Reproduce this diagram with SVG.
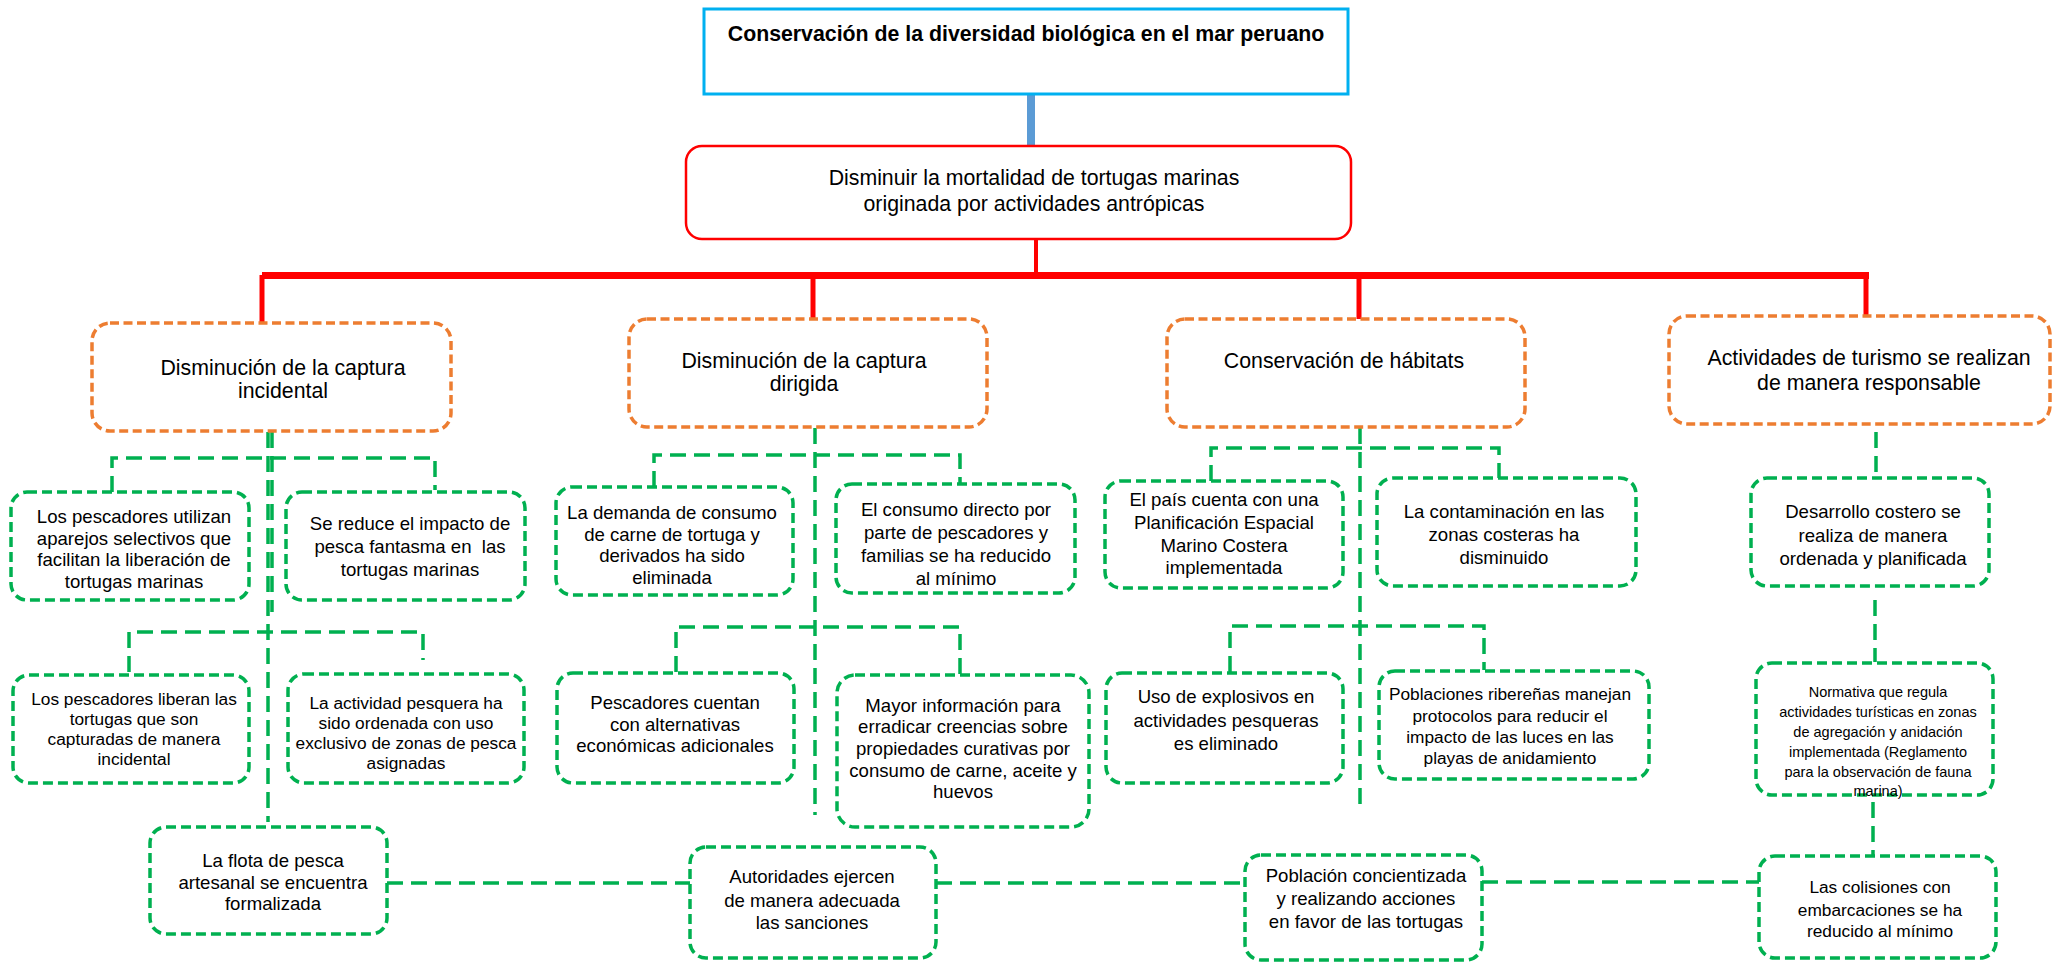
<svg xmlns="http://www.w3.org/2000/svg" width="2053" height="962" viewBox="0 0 2053 962">
<style>
text{font-family:"Liberation Sans",Arial,sans-serif;fill:#000;text-anchor:middle}
.t1{font-size:21.3px;font-weight:bold}
.t2{font-size:21.3px}
.t3{font-size:18.6px}
.t4{font-size:17.3px}
.t5{font-size:14.5px}
.top{fill:#fff;stroke:#00B0F0;stroke-width:3}
.goal{fill:#fff;stroke:#FF0000;stroke-width:2.5}
.obj{fill:#fff;stroke:#ED7D31;stroke-width:3.5;stroke-dasharray:9 4.5}
.res{fill:#fff;stroke:#00B050;stroke-width:3.5;stroke-dasharray:10 5}
.c{fill:none;stroke:#00B050;stroke-width:3.5;stroke-dasharray:16 8}
.r{fill:none;stroke:#FF0000}
</style>
<rect width="2053" height="962" fill="#fff"/>
<g id="connectors">
<line x1="1031" y1="95" x2="1031" y2="146" stroke="#5B9BD5" stroke-width="8"/>
<line class="r" x1="1036" y1="239" x2="1036" y2="275" stroke-width="4"/>
<line class="r" x1="262" y1="275.5" x2="1869" y2="275.5" stroke-width="7"/>
<line class="r" x1="262" y1="275" x2="262" y2="323" stroke-width="5"/>
<line class="r" x1="813" y1="275" x2="813" y2="319" stroke-width="5"/>
<line class="r" x1="1359" y1="275" x2="1359" y2="319" stroke-width="5"/>
<line class="r" x1="1866" y1="275" x2="1866" y2="316" stroke-width="5"/>
<path class="c" d="M268 432V822M272 432V612"/>
<path class="c" d="M112 492V458H435V490"/>
<path class="c" d="M129 672V632H423V660"/>
<path class="c" d="M815 428V815"/>
<path class="c" d="M654 487V455H960V484"/>
<path class="c" d="M676 672V627H960V674"/>
<path class="c" d="M1360 428V808"/>
<path class="c" d="M1211 481V448H1499V478"/>
<path class="c" d="M1230 672V626H1484V670"/>
<path class="c" d="M1876 432V477"/>
<path class="c" d="M1875 600V662"/>
<path class="c" d="M1873 802V855"/>
<path class="c" d="M387 883H691M936 883H1245M1482 882H1759"/>
</g>
<g id="n0"><rect class="top" x="704" y="9" width="644" height="85"/><text class="t1" x="1026" y="40.5">Conservación de la diversidad biológica en el mar peruano</text></g>
<g id="n1"><rect class="goal" x="686" y="146" width="665" height="93" rx="16"/><text class="t2" x="1034" y="184.5">Disminuir la mortalidad de tortugas marinas</text><text class="t2" x="1034" y="211">originada por actividades antrópicas</text></g>
<g id="oA"><rect class="obj" x="92" y="323" width="359" height="108" rx="18"/><text class="t2" x="283" y="374.5">Disminución de la captura</text><text class="t2" x="283" y="398">incidental</text></g>
<g id="oB"><rect class="obj" x="629" y="319" width="358" height="108" rx="18"/><text class="t2" x="804" y="367.5">Disminución de la captura</text><text class="t2" x="804" y="391">dirigida</text></g>
<g id="oC"><rect class="obj" x="1167" y="319" width="358" height="108" rx="18"/><text class="t2" x="1344" y="367.5">Conservación de hábitats</text></g>
<g id="oD"><rect class="obj" x="1669" y="316" width="381" height="108" rx="18"/><text class="t2" x="1869" y="364.5">Actividades de turismo se realizan</text><text class="t2" x="1869" y="390">de manera responsable</text></g>
<g id="a1"><rect class="res" x="11" y="492" width="238" height="108" rx="16"/><text class="t3" x="134" y="523">Los pescadores utilizan</text><text class="t3" x="134" y="544.5">aparejos selectivos que</text><text class="t3" x="134" y="566">facilitan la liberación de</text><text class="t3" x="134" y="587.5">tortugas marinas</text></g>
<g id="a2"><rect class="res" x="286" y="492" width="239" height="108" rx="16"/><text class="t3" x="410" y="530">Se reduce el impacto de</text><text class="t3" x="410" y="553" xml:space="preserve">pesca fantasma en  las</text><text class="t3" x="410" y="576">tortugas marinas</text></g>
<g id="a3"><rect class="res" x="13" y="675" width="236" height="108" rx="16"/><text class="t4" x="134" y="705">Los pescadores liberan las</text><text class="t4" x="134" y="725">tortugas que son</text><text class="t4" x="134" y="745">capturadas de manera</text><text class="t4" x="134" y="765">incidental</text></g>
<g id="a4"><rect class="res" x="288" y="674" width="236" height="109" rx="16"/><text class="t4" x="406" y="709">La actividad pesquera ha</text><text class="t4" x="406" y="729">sido ordenada con uso</text><text class="t4" x="406" y="749">exclusivo de zonas de pesca</text><text class="t4" x="406" y="769">asignadas</text></g>
<g id="a5"><rect class="res" x="150" y="827" width="237" height="107" rx="16"/><text class="t3" x="273" y="867">La flota de pesca</text><text class="t3" x="273" y="889">artesanal se encuentra</text><text class="t3" x="273" y="910">formalizada</text></g>
<g id="b1"><rect class="res" x="556" y="487" width="237" height="108" rx="16"/><text class="t3" x="672" y="519">La demanda de consumo</text><text class="t3" x="672" y="541">de carne de tortuga y</text><text class="t3" x="672" y="562">derivados ha sido</text><text class="t3" x="672" y="584">eliminada</text></g>
<g id="b2"><rect class="res" x="836" y="484" width="239" height="109" rx="16"/><text class="t3" x="956" y="516">El consumo directo por</text><text class="t3" x="956" y="539">parte de pescadores y</text><text class="t3" x="956" y="562">familias se ha reducido</text><text class="t3" x="956" y="585">al mínimo</text></g>
<g id="b3"><rect class="res" x="557" y="673" width="237" height="110" rx="16"/><text class="t3" x="675" y="709">Pescadores cuentan</text><text class="t3" x="675" y="731">con alternativas</text><text class="t3" x="675" y="752">económicas adicionales</text></g>
<g id="b4"><rect class="res" x="837" y="675" width="252" height="152" rx="18"/><text class="t3" x="963" y="712">Mayor información para</text><text class="t3" x="963" y="733">erradicar creencias sobre</text><text class="t3" x="963" y="755">propiedades curativas por</text><text class="t3" x="963" y="777">consumo de carne, aceite y</text><text class="t3" x="963" y="798">huevos</text></g>
<g id="b5"><rect class="res" x="690" y="847" width="246" height="111" rx="16"/><text class="t3" x="812" y="883">Autoridades ejercen</text><text class="t3" x="812" y="907">de manera adecuada</text><text class="t3" x="812" y="929">las sanciones</text></g>
<g id="c1"><rect class="res" x="1105" y="481" width="238" height="107" rx="16"/><text class="t3" x="1224" y="506">El país cuenta con una</text><text class="t3" x="1224" y="529">Planificación Espacial</text><text class="t3" x="1224" y="552">Marino Costera</text><text class="t3" x="1224" y="574">implementada</text></g>
<g id="c2"><rect class="res" x="1377" y="478" width="259" height="108" rx="16"/><text class="t3" x="1504" y="518">La contaminación en las</text><text class="t3" x="1504" y="541">zonas costeras ha</text><text class="t3" x="1504" y="564">disminuido</text></g>
<g id="c3"><rect class="res" x="1106" y="673" width="237" height="110" rx="16"/><text class="t3" x="1226" y="703">Uso de explosivos en</text><text class="t3" x="1226" y="727">actividades pesqueras</text><text class="t3" x="1226" y="750">es eliminado</text></g>
<g id="c4"><rect class="res" x="1379" y="671" width="270" height="108" rx="16"/><text class="t4" x="1510" y="700">Poblaciones ribereñas manejan</text><text class="t4" x="1510" y="722">protocolos para reducir el</text><text class="t4" x="1510" y="743">impacto de las luces en las</text><text class="t4" x="1510" y="764">playas de anidamiento</text></g>
<g id="c5"><rect class="res" x="1245" y="855" width="237" height="105" rx="16"/><text class="t3" x="1366" y="882">Población concientizada</text><text class="t3" x="1366" y="905">y realizando acciones</text><text class="t3" x="1366" y="928">en favor de las tortugas</text></g>
<g id="d1"><rect class="res" x="1751" y="478" width="238" height="108" rx="16"/><text class="t3" x="1873" y="518">Desarrollo costero se</text><text class="t3" x="1873" y="542">realiza de manera</text><text class="t3" x="1873" y="565">ordenada y planificada</text></g>
<g id="d2"><rect class="res" x="1756" y="663" width="237" height="132" rx="16"/><text class="t5" x="1878" y="697">Normativa que regula</text><text class="t5" x="1878" y="717">actividades turísticas en zonas</text><text class="t5" x="1878" y="737">de agregación y anidación</text><text class="t5" x="1878" y="757">implementada (Reglamento</text><text class="t5" x="1878" y="777">para la observación de fauna</text><text class="t5" x="1878" y="796">marina)</text></g>
<g id="d3"><rect class="res" x="1759" y="856" width="237" height="102" rx="16"/><text class="t4" x="1880" y="893">Las colisiones con</text><text class="t4" x="1880" y="916">embarcaciones se ha</text><text class="t4" x="1880" y="937">reducido al mínimo</text></g>
</svg>
